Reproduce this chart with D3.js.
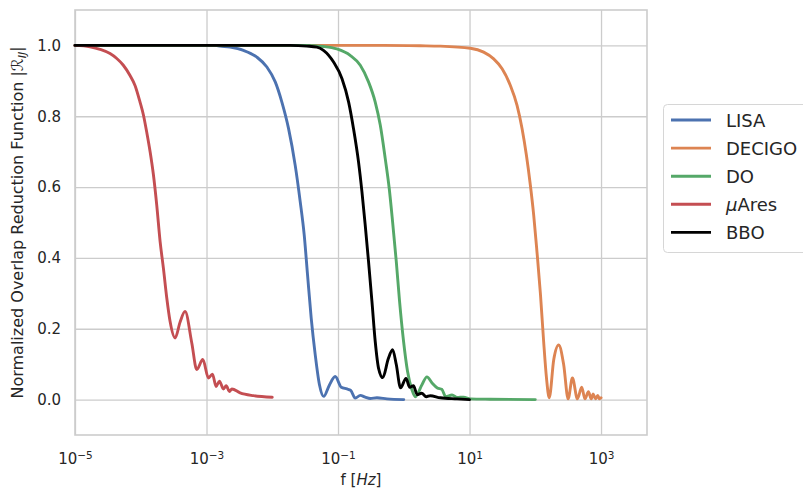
<!DOCTYPE html>
<html>
<head>
<meta charset="utf-8">
<script src="https://cdn.jsdelivr.net/npm/d3@7"></script>
<style>
  body { margin: 0; background: #fff; }
  text { font-family: "DejaVu Sans", sans-serif; fill: #262626; }
</style>
</head>
<body>
<div id="chart"></div>
<script>
// frequencies [Hz] and |R|
const lisaF = [1e-5, 1.35e-3, 1.61e-3, 2.29e-3, 3.65e-3, 5.83e-3, 8.28e-3, 1.11e-2, 1.40e-2, 1.77e-2, 2.23e-2, 2.66e-2, 3.06e-2, 3.44e-2, 3.91e-2, 4.50e-2, 5.22e-2, 6.05e-2, 7.35e-2, 9.06e-2, 0.112, 0.137, 0.156, 0.183, 0.218, 0.259, 0.309, 0.391, 0.555, 1.0]
const lisaR = [1.0, 1.0, 0.998, 0.995, 0.986, 0.967, 0.939, 0.897, 0.840, 0.765, 0.662, 0.559, 0.465, 0.352, 0.230, 0.127, 0.042, 0.009, 0.040, 0.065, 0.035, 0.030, 0.026, 0.004, 0.012, 0.007, 0.003, 0.005, 0.002, 0.0]

const decigoF = [1e-5, 0.5, 1.78, 3.60, 10.3, 16.4, 23.3, 31.3, 41.8, 52.8, 63.0, 73.3, 84.1, 94.6, 106, 120, 134, 148, 163, 191, 227, 270, 316, 367, 438, 508, 569, 643, 710, 759, 822, 891, 946, 1000]
const decigoR = [1.0, 1.0, 0.999, 0.998, 0.992, 0.981, 0.962, 0.934, 0.887, 0.831, 0.765, 0.690, 0.606, 0.521, 0.418, 0.296, 0.164, 0.061, 0.005, 0.113, 0.154, 0.099, 0.002, 0.061, 0.002, 0.035, 0.002, 0.022, 0.002, 0.016, 0.002, 0.012, 0.002, 0.005]

const doF = [1e-5, 3.16e-2, 5.96e-2, 9.62e-2, 0.153, 0.218, 0.291, 0.368, 0.439, 0.522, 0.601, 0.676, 0.769, 0.863, 0.993, 1.14, 1.33, 1.50, 1.89, 2.25, 2.69, 3.24, 3.78, 4.36, 5.42, 6.46, 8.13, 10.3, 20.7, 100]
const doR = [1.0, 1.0, 0.997, 0.990, 0.972, 0.944, 0.897, 0.840, 0.775, 0.681, 0.596, 0.502, 0.390, 0.277, 0.164, 0.080, 0.028, 0.008, 0.042, 0.064, 0.047, 0.033, 0.029, 0.008, 0.013, 0.006, 0.007, 0.002, 0.001, 0.0]

const aresF = [1e-5, 1.69e-5, 2.40e-5, 3.41e-5, 4.32e-5, 5.43e-5, 6.87e-5, 8.18e-5, 9.75e-5, 1.10e-4, 1.23e-4, 1.39e-4, 1.56e-4, 1.75e-4, 1.97e-4, 2.21e-4, 2.49e-4, 2.79e-4, 3.33e-4, 3.98e-4, 4.72e-4, 5.97e-4, 7.11e-4, 8.79e-4, 1.07e-3, 1.23e-3, 1.40e-3, 1.57e-3, 1.81e-3, 1.99e-3, 2.23e-3, 2.43e-3, 3.24e-3, 5.18e-3, 1e-2]
const aresR = [1.0, 0.996, 0.989, 0.977, 0.963, 0.944, 0.915, 0.887, 0.840, 0.803, 0.756, 0.699, 0.634, 0.549, 0.446, 0.371, 0.286, 0.221, 0.174, 0.22, 0.249, 0.16, 0.085, 0.113, 0.061, 0.072, 0.037, 0.052, 0.030, 0.039, 0.023, 0.030, 0.019, 0.011, 0.0065]

const bboF = [1e-5, 1.87e-2, 3.36e-2, 4.78e-2, 6.01e-2, 8.55e-2, 0.115, 0.145, 0.172, 0.205, 0.231, 0.259, 0.291, 0.328, 0.368, 0.413, 0.479, 0.581, 0.676, 0.769, 0.893, 1.08, 1.23, 1.40, 1.60, 1.87, 2.20, 2.53, 3.60, 6.46, 10]
const bboR = [1.0, 1.0, 0.998, 0.995, 0.986, 0.953, 0.906, 0.840, 0.765, 0.671, 0.587, 0.493, 0.390, 0.277, 0.164, 0.089, 0.062, 0.115, 0.141, 0.099, 0.033, 0.060, 0.035, 0.039, 0.014, 0.018, 0.008, 0.011, 0.005, 0.002, 0.0]

const names = ['LISA', 'DECIGO', 'DO', 'μAres', 'BBO']
const colors = ['#4c72b0', '#dd8452', '#55a868', '#c44e52', '#000000']
const xTicks = [1e-5, 1e-3, 1e-1, 1e1, 1e3]
const yTicks = [0.0, 0.2, 0.4, 0.6, 0.8, 1.0]

const series = [
  [lisaF, lisaR], [decigoF, decigoR], [doF, doR], [aresF, aresR], [bboF, bboR]
]

// canvas
const width = 803,
  height = 488
const mLeft = 75, mRight = 647, mTop = 10, mBottom = 435

const x = d3.scaleLog()
  .domain([1e-5, 5e3])
  .range([mLeft, mRight])

const y = d3.scaleLinear()
  .domain([-0.1, 1.1])
  .range([mBottom, mTop])

let svg = d3.select('#chart')
  .append('svg')
  .attr('width', width)
  .attr('height', height)

// grid
let gx = svg.append('g')
  .attr('transform', `translate(0,${mBottom})`)
  .call(d3.axisBottom(x).tickValues(xTicks).tickSize(-(mBottom - mTop)).tickFormat(''))
gx.select('.domain').remove()
gx.selectAll('line').attr('stroke', '#cccccc').attr('stroke-width', 1.3)
gx.selectAll('.tick').each(function(d) {
  let t = d3.select(this).append('text')
    .attr('y', 29)
    .attr('text-anchor', 'middle')
    .style('font-size', '15px')
  t.append('tspan').text('10')
  t.append('tspan').attr('dy', '-0.45em').style('font-size', '10.5px')
    .text(String(Math.round(Math.log10(d))).replace('-', '−'))
})

let gy = svg.append('g')
  .attr('transform', `translate(${mLeft},0)`)
  .call(d3.axisLeft(y).tickValues(yTicks).tickSize(-(mRight - mLeft)).tickFormat(d3.format('.1f')).tickPadding(14))
gy.select('.domain').remove()
gy.selectAll('line').attr('stroke', '#cccccc').attr('stroke-width', 1.3)
gy.selectAll('text').style('font-size', '15px').attr('fill', '#262626')

// frame
svg.append('rect')
  .attr('x', mLeft).attr('y', mTop)
  .attr('width', mRight - mLeft).attr('height', mBottom - mTop)
  .attr('fill', 'none').attr('stroke', '#cccccc').attr('stroke-width', 1.6)

// curves
const line = d3.line()
  .x(d => x(d[0]))
  .y(d => y(d[1]))
  .curve(d3.curveMonotoneX)

series.forEach((s, i) => {
  let pts = s[0].map((f, j) => [f, s[1][j]])
  svg.append('path')
    .datum(pts)
    .attr('d', line)
    .attr('fill', 'none')
    .attr('stroke', colors[i])
    .attr('stroke-width', 2.9)
    .attr('stroke-linejoin', 'round')
    .attr('stroke-linecap', 'round')
})

// axis labels
let xl = svg.append('text')
  .attr('x', (mLeft + mRight) / 2).attr('y', 485)
  .attr('text-anchor', 'middle')
  .style('font-size', '15px')
xl.append('tspan').text('f [')
xl.append('tspan').style('font-style', 'italic').text('Hz')
xl.append('tspan').text(']')

let yl = svg.append('text')
  .attr('transform', `translate(23,${(mTop + mBottom) / 2}) rotate(-90)`)
  .attr('text-anchor', 'middle')
  .style('font-size', '16px')
yl.append('tspan').text('Normalized Overlap Reduction Function |')
yl.append('tspan').style('font-style', 'italic').text('ℛ')
yl.append('tspan').attr('dy', '0.3em').style('font-size', '11px').style('font-style', 'italic').text('IJ')
yl.append('tspan').attr('dy', '-0.3em').text('|')

// legend
let lg = svg.append('g')
lg.append('rect')
  .attr('x', 663.5).attr('y', 104.5)
  .attr('width', 160).attr('height', 148)
  .attr('rx', 4)
  .attr('fill', '#fff').attr('stroke', '#d6d6d6')
names.forEach((n, i) => {
  let yy = 120 + i * 28.1
  lg.append('line')
    .attr('x1', 671).attr('x2', 711)
    .attr('y1', yy).attr('y2', yy)
    .attr('stroke', colors[i]).attr('stroke-width', 2.9)
  let t = lg.append('text')
    .attr('x', 726).attr('y', yy + 6.5)
    .style('font-size', '18px')
  if (n === 'μAres') {
    t.append('tspan').style('font-style', 'italic').text('μ')
    t.append('tspan').text('Ares')
  } else {
    t.text(n)
  }
})
</script>
</body>
</html>
